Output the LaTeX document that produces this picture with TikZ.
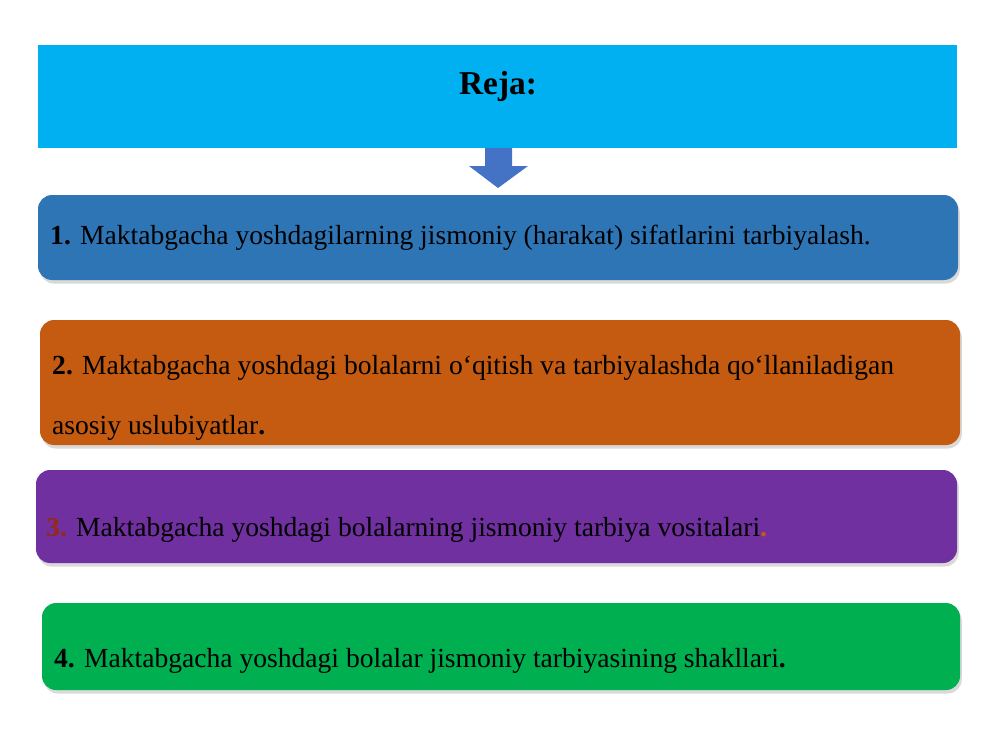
\documentclass[tikz,border=0pt]{standalone}
\usepackage{fontspec}
\setmainfont{Liberation Serif}
\usetikzlibrary{shadows}
\definecolor{cyanb}{RGB}{0,176,240}
\definecolor{blueb}{RGB}{46,117,182}
\definecolor{orangeb}{RGB}{197,90,17}
\definecolor{purpleb}{RGB}{112,48,160}
\definecolor{greenb}{RGB}{0,176,80}
\definecolor{arrowb}{RGB}{68,114,196}
\definecolor{darkred}{RGB}{150,40,20}
\begin{document}
\begin{tikzpicture}[x=0.02cm,y=-0.02cm,
  planbox/.style={rounded corners=8pt,drop shadow={opacity=0.3,shadow xshift=1pt,shadow yshift=-2pt}},
  itemtext/.style={anchor=west,font=\fontsize{15.7}{18}\selectfont,text=black}]
\useasboundingbox (0,0) rectangle (1000,750);
\fill[cyanb] (38,45) rectangle (957,148);
\node (reja) at (498,86) {\fontsize{19}{21}\selectfont\bfseries Reja:};
\fill[arrowb] (485,148) -- (512,148) -- (512,166) -- (528,166) -- (498,188) -- (469,166) -- (485,166) -- cycle;
\fill[blueb,planbox] (38,195) rectangle (958,280);
\node[itemtext] (t1) at (44,238) {\textbf{1.} Maktabgacha yoshdagilarning jismoniy (harakat) sifatlarini tarbiyalash.};
\fill[orangeb,planbox] (40,320) rectangle (960,445);
\node[itemtext] (t2a) at (46,368) {\textbf{2.} Maktabgacha yoshdagi bolalarni o`qitish va tarbiyalashda qo‘llaniladigan};
\node[itemtext] (t2b) at (46,428) {asosiy uslubiyatlar\textbf{.}};
\fill[purpleb,planbox] (36,470) rectangle (957,563);
\node[itemtext] (t3) at (40,530) {\textcolor{darkred}{\textbf{3.}} Maktabgacha yoshdagi bolalarning jismoniy tarbiya vositalari\textcolor{orangeb}{\textbf{.}}};
\fill[greenb,planbox] (42,603) rectangle (960,690);
\node[itemtext] (t4) at (48,661) {\textbf{4.} Maktabgacha yoshdagi bolalar jismoniy tarbiyasining shakllari\textbf{.}};
\end{tikzpicture}
\end{document}
